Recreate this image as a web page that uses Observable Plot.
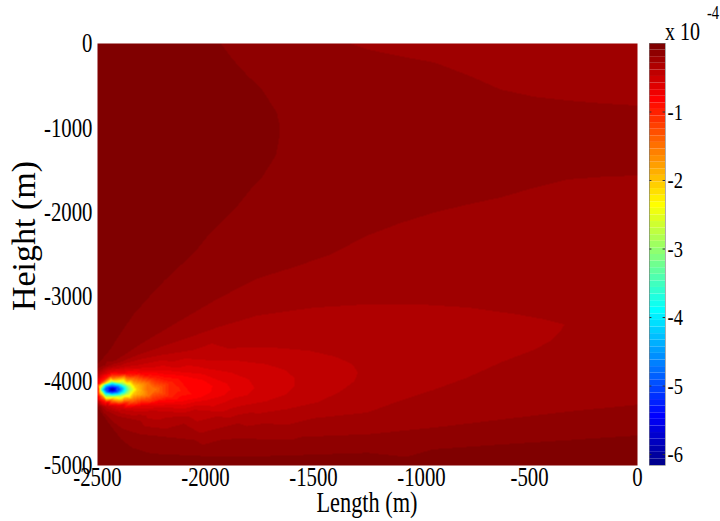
<!DOCTYPE html>
<html><head><meta charset="utf-8">
<script src="https://cdn.jsdelivr.net/npm/d3@7"></script>
<script src="https://cdn.jsdelivr.net/npm/@observablehq/plot@0.6"></script>
<style>
body{margin:0;background:#fff;}
#wrap{position:relative;width:720px;height:521px;font-family:"Liberation Serif","Times New Roman",serif;}
#wrap svg{position:absolute;top:0;overflow:visible;}
</style></head><body><div id="wrap"></div>
<script>
// ---------- data (values in units of 1e-4, positions in metres) ----------
const xTicks = [-2500, -2000, -1500, -1000, -500, 0];
const yTicks = [0, -1000, -2000, -3000, -4000, -5000];
const cbTicks = [-1, -2, -3, -4, -5, -6];
const cbMin = -6.16, cbMax = 0, nColors = 64;

// colour-band boundaries (contour points, [x, y])
const b0096a = [[-1930,0],[-1870,-200],[-1806,-380],[-1740,-540],[-1699,-660],[-1670,-820],[-1657,-970],[-1655,-1070],[-1657,-1170],[-1675,-1330],[-1699,-1490],[-1745,-1610],[-1792,-1730],[-1866,-1967],[-1977,-2240],[-2051,-2476],[-2120,-2640],[-2190,-2808],[-2260,-3000],[-2330,-3200],[-2390,-3420],[-2440,-3620],[-2475,-3730],[-2500,-3800]];
const b0096b = [[-2500,-4310],[-2470,-4420],[-2430,-4560],[-2390,-4690],[-2340,-4790],[-2250,-4860],[-2000,-4890],[-1600,-4880],[-1250,-4850],[-950,-4810],[-634,-4752],[-320,-4700],[0,-4645]];
const b0193a = [[-1333,0],[-1250,-70],[-1100,-150],[-940,-225],[-780,-380],[-634,-545],[-480,-630],[-324,-675],[-160,-710],[0,-735]];
const b0193b = [[0,-1564],[-160,-1580],[-324,-1611],[-480,-1710],[-634,-1825],[-790,-1910],[-940,-2002],[-1100,-2130],[-1250,-2275],[-1421,-2500],[-1590,-2650],[-1759,-2784],[-1940,-3020],[-2116,-3282],[-2220,-3440],[-2300,-3560],[-2370,-3680],[-2420,-3760],[-2465,-3810],[-2500,-3850]];
const b0193c = [[-2500,-4285],[-2470,-4380],[-2430,-4480],[-2380,-4570],[-2300,-4630],[-2150,-4670],[-1850,-4680],[-1550,-4660],[-1250,-4630],[-940,-4550],[-634,-4456],[-320,-4360],[0,-4280]];
const b0289 = [[-2500,-3890],[-2440,-3815],[-2370,-3750],[-2300,-3680],[-2200,-3590],[-2116,-3519],[-1940,-3360],[-1759,-3223],[-1500,-3130],[-1250,-3090],[-1019,-3090],[-787,-3128],[-556,-3210],[-430,-3270],[-338,-3330],[-360,-3420],[-400,-3520],[-477,-3626],[-634,-3780],[-787,-3957],[-940,-4100],[-1097,-4230],[-1250,-4372],[-1500,-4440],[-1850,-4500],[-2100,-4505],[-2300,-4470],[-2400,-4420],[-2460,-4350],[-2500,-4260]];
const b0385 = [[-2500,-3920],[-2440,-3840],[-2370,-3790],[-2300,-3740],[-2200,-3690],[-2100,-3650],[-1900,-3610],[-1700,-3600],[-1520,-3640],[-1400,-3710],[-1320,-3800],[-1295,-3900],[-1310,-4000],[-1380,-4130],[-1480,-4250],[-1620,-4330],[-1850,-4400],[-2100,-4420],[-2300,-4400],[-2400,-4370],[-2460,-4310],[-2500,-4240]];
const b0481 = [[-2500,-3950],[-2440,-3858],[-2370,-3830],[-2300,-3805],[-2150,-3770],[-2000,-3750],[-1850,-3760],[-1720,-3800],[-1630,-3870],[-1590,-3960],[-1588,-4060],[-1630,-4160],[-1720,-4240],[-1850,-4300],[-2050,-4340],[-2250,-4350],[-2380,-4340],[-2450,-4300],[-2500,-4220]];
const b0578 = [[-2500,-3980],[-2440,-3875],[-2370,-3855],[-2300,-3845],[-2150,-3840],[-2000,-3850],[-1880,-3900],[-1800,-3980],[-1773,-4080],[-1810,-4170],[-1900,-4240],[-2050,-4290],[-2250,-4320],[-2380,-4315],[-2450,-4280],[-2500,-4205]];
const b0674 = [[-2500,-4010],[-2440,-3895],[-2370,-3880],[-2300,-3875],[-2200,-3880],[-2080,-3900],[-1980,-3950],[-1900,-4030],[-1884,-4100],[-1915,-4170],[-2000,-4230],[-2130,-4275],[-2300,-4295],[-2400,-4290],[-2455,-4265],[-2500,-4190]];
const b0770 = [[-2500,-4040],[-2440,-3915],[-2370,-3905],[-2300,-3905],[-2200,-3915],[-2100,-3940],[-2010,-3990],[-1968,-4060],[-1975,-4130],[-2020,-4190],[-2110,-4240],[-2250,-4265],[-2380,-4275],[-2450,-4255],[-2500,-4170]];
const r100 = [[-2496,-4100],[-2482,-4010],[-2440,-3935],[-2350,-3935],[-2240,-3965],[-2165,-4020],[-2130,-4100],[-2160,-4180],[-2250,-4245],[-2380,-4265],[-2460,-4245],[-2490,-4180]];
const r150 = [[-2492,-4100],[-2475,-4020],[-2430,-3965],[-2340,-3975],[-2270,-4025],[-2236,-4100],[-2265,-4175],[-2340,-4225],[-2430,-4235],[-2478,-4185]];
const r200 = [[-2490,-4100],[-2472,-4030],[-2430,-3990],[-2365,-4010],[-2327,-4055],[-2315,-4100],[-2332,-4150],[-2375,-4195],[-2430,-4205],[-2475,-4170]];
const r300 = [[-2486,-4100],[-2470,-4040],[-2432,-4010],[-2385,-4030],[-2360,-4065],[-2352,-4100],[-2363,-4140],[-2395,-4172],[-2432,-4180],[-2470,-4155]];
const r400 = [[-2477,-4100],[-2463,-4050],[-2432,-4030],[-2395,-4048],[-2378,-4075],[-2375,-4100],[-2382,-4128],[-2400,-4152],[-2432,-4160],[-2463,-4145]];
const r500 = [[-2462,-4100],[-2452,-4075],[-2432,-4064],[-2410,-4074],[-2400,-4100],[-2410,-4125],[-2432,-4135],[-2452,-4125]];
// single readings [x, y, value]
const spotValues = [[-2432,-4100,-6.1],[-2500,-4100,-0.9],
  [-2500,0,-0.02],[-2500,-1000,-0.02],[-2500,-2000,-0.02],[-2500,-3000,-0.04],[-2500,-3500,-0.05],[-2200,-1000,-0.03],[-2200,-2000,-0.05],
  [-2500,-4700,-0.04],[-2500,-5000,-0.03],[-1800,-5000,-0.05],[-1000,-5000,-0.06],[0,-5000,-0.07],
  [-800,0,-0.22],[0,0,-0.25],[0,-400,-0.22],
  [-1500,-1080,-0.11],[-1300,-1100,-0.12],[-1100,-1100,-0.13],[-900,-1120,-0.14],[-700,-1140,-0.148],[-500,-1150,-0.155],[-324,-1150,-0.16],[-160,-1150,-0.163],[0,-1150,-0.165],
  [-1200,-600,-0.14],[-700,-900,-0.16],[-300,-1000,-0.17],[-1200,-1600,-0.15],[-700,-1450,-0.165],[-300,-1350,-0.175],
  [0,-2300,-0.23],[0,-3000,-0.265],[0,-3700,-0.27]];
const bandLevels = [-0.09625, -0.1925, -0.28875, -0.385, -0.48125, -0.5775, -0.67375, -0.77, -1, -1.5, -2, -3, -4, -5];
const bandLines = [[b0096a, b0096b], [b0193a, b0193b, b0193c], [b0289], [b0385], [b0481], [b0578], [b0674], [b0770], [r100], [r150], [r200], [r300], [r400], [r500]];

// ---------- build sample table ----------
const samples = [];
bandLevels.forEach((lv, i) => bandLines[i].forEach(line => line.forEach(([x, y]) => samples.push({x, y, v: lv}))));
spotValues.forEach(([x, y, v]) => samples.push({x, y, v}));

// MATLAB jet(64) colormap
function jet(m) {
  const n = Math.ceil(m / 4), u = [];
  for (let i = 1; i <= n; i++) u.push(i / n);
  for (let i = 1; i < n; i++) u.push(1);
  for (let i = n; i >= 1; i--) u.push(i / n);
  const g0 = Math.ceil(n / 2) - (m % 4 === 1 ? 1 : 0);
  const R = new Array(m).fill(0), G = new Array(m).fill(0), B = new Array(m).fill(0);
  u.forEach((val, j) => {
    const gi = g0 + j + 1, ri = gi + n, bi = gi - n;
    if (gi >= 1 && gi <= m) G[gi - 1] = val;
    if (ri >= 1 && ri <= m) R[ri - 1] = val;
    if (bi >= 1 && bi <= m) B[bi - 1] = val;
  });
  return R.map((r, i) => d3.rgb(r * 255, G[i] * 255, B[i] * 255).formatHex());
}
const jetColors = jet(nColors);
const step = (cbMax - cbMin) / nColors;
const thresholds = d3.range(1, nColors).map(k => cbMin + k * step + 1e-6);
const colorScale = {type: "threshold", domain: thresholds, range: jetColors};
const cbBins = d3.range(nColors).map(k => ({y1: cbMin + k * step, y2: cbMin + (k + 1) * step, v: cbMin + (k + 0.5) * step}));

const SQX = 0.77;
function squeeze(svg) {
  svg.querySelectorAll("text").forEach(t => {
    t.setAttribute("transform", (t.getAttribute("transform") || "") + ` scale(${SQX},1)`);
  });
}

// ---------- main chart ----------
const main = Plot.plot({
  width: 640, height: 521,
  marginLeft: 97, marginRight: 3, marginTop: 43, marginBottom: 56,
  x: {domain: [-2500, 0]},
  y: {domain: [-5000, 0]},
  color: colorScale,
  style: {fontFamily: "Liberation Serif, Times New Roman, serif", fontSize: "27px", background: "transparent", color: "#000"},
  marks: [
    Plot.raster(samples, {x: "x", y: "y", fill: "v", interpolate: "barycentric"}),
    Plot.axisX(xTicks, {tickSize: 0, tickPadding: 1, tickFormat: d => String(d), label: null}),
    Plot.axisY(yTicks, {tickSize: 0, tickPadding: 5, tickFormat: d => String(d), label: null})
  ]
});
squeeze(main);
const ms = d3.select(main);
ms.append("text").attr("transform", `translate(367,512) scale(${SQX},1)`).attr("text-anchor", "middle")
  .style("font-size", "29px").text("Length (m)");
ms.append("text").attr("transform", "translate(35,236) rotate(-90)").attr("text-anchor", "middle")
  .style("font-size", "34px").text("Height (m)");
main.style.left = "0px";
document.getElementById("wrap").appendChild(main);

// ---------- colour bar ----------
const bar = Plot.plot({
  width: 80, height: 521,
  marginLeft: 9, marginRight: 55, marginTop: 43, marginBottom: 56,
  x: {domain: [0, 1], axis: null},
  y: {domain: [cbMin, cbMax]},
  color: colorScale,
  style: {fontFamily: "Liberation Serif, Times New Roman, serif", fontSize: "24px", background: "transparent", color: "#000"},
  marks: [
    Plot.rect(cbBins, {x1: 0, x2: 1, y1: "y1", y2: "y2", fill: "v"}),
    Plot.ruleY(cbTicks, {x1: 0, x2: 0.15, stroke: "#333", strokeWidth: 1}),
    Plot.ruleY(cbTicks, {x1: 0.85, x2: 1, stroke: "#333", strokeWidth: 1}),
    Plot.frame({stroke: "#777", strokeWidth: 0.6}),
    Plot.axisY(cbTicks, {anchor: "right", tickSize: 0, tickPadding: 2, tickFormat: d => String(d), label: null})
  ]
});
squeeze(bar);
const bs = d3.select(bar);
bs.append("text").attr("transform", `translate(25,40) scale(${SQX},1)`).attr("text-anchor", "start").style("font-size", "26px").text("x 10");
bs.append("text").attr("transform", `translate(67,19) scale(${SQX},1)`).attr("text-anchor", "start").style("font-size", "19px").text("-4");
bar.style.left = "640px";
document.getElementById("wrap").appendChild(bar);
</script></body></html>
